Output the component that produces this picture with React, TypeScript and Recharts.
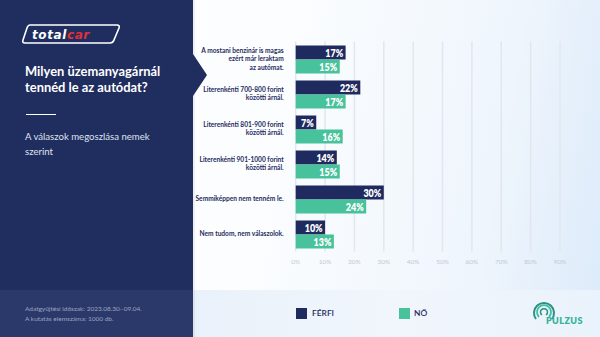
import React from "react";
import { BarChart, Bar, XAxis, YAxis, CartesianGrid, LabelList } from "recharts";

const categories = [
  "A mostani benzinár is magas\nezért már leraktam\naz autómat.",
  "Literenkénti 700-800 forint\nközötti árnál.",
  "Literenkénti 801-900 forint\nközötti árnál.",
  "Literenkénti 901-1000 forint\nközötti árnál.",
  "Semmiképpen nem tenném le.",
  "Nem tudom, nem válaszolok.",
];
const ferfi = [17, 22, 7, 14, 30, 10];
const no = [15, 17, 16, 15, 24, 13];
const xTicks = [0, 10, 20, 30, 40, 50, 60, 70, 80, 90];
const seriesNames = ["FÉRFI", "NŐ"];

const NAVY = "#1f2b5e";
const GREEN = "#48c29b";

const data = categories.map((name, i) => ({ name, ferfi: ferfi[i], no: no[i] }));

const YTick = (props: any) => {
  const { x, y, payload } = props;
  const lines = String(payload.value).split("\n");
  const lh = 8.3;
  const start = y - ((lines.length - 1) * lh) / 2;
  return (
    <text
      x={x}
      y={start}
      textAnchor="end"
      fill={NAVY}
      fontFamily="Lato, sans-serif"
      fontWeight={700}
      fontSize={6.6}
    >
      {lines.map((l: string, i: number) => (
        <tspan key={i} x={x} y={start + i * lh} dy="0.35em">
          {l}
        </tspan>
      ))}
    </text>
  );
};

const ValueLabel = (props: any) => {
  const { x, y, width, height, value } = props;
  return (
    <text
      transform={`translate(${x + width - 2.5}, ${y + height / 2}) scale(0.78, 1)`}
      dy="0.36em"
      textAnchor="end"
      fill="#ffffff"
      fontFamily="Lato, sans-serif"
      fontWeight={800}
      fontSize={11.5}
    >
      {value}%
    </text>
  );
};

export default function App() {
  return (
    <div
      style={{
        position: "fixed",
        left: 0,
        top: 0,
        width: 600,
        height: 337,
        overflow: "hidden",
        fontFamily: "Lato, sans-serif",
        background: "linear-gradient(100deg, #ffffff 0%, #fbfdff 45%, #eef5fc 80%, #dceafa 100%)",
      }}
    >
      {/* bottom band right */}
      <div
        style={{
          position: "absolute",
          left: 193,
          top: 290,
          width: 407,
          height: 47,
          background: "linear-gradient(90deg, #e9f1fa 0%, #f1f6fc 50%, #eaf2fb 100%)",
        }}
      />
      {/* left panel */}
      <div style={{ position: "absolute", left: 0, top: 0, width: 193, height: 290, background: "#202d5f" }} />
      <div style={{ position: "absolute", left: 0, top: 290, width: 193, height: 47, background: "#2b386a" }} />
      <div style={{ position: "absolute", left: 193, top: 0, width: 2, height: 337, background: "rgba(0,0,0,0.06)" }} />
      <svg style={{ position: "absolute", left: 190, top: 50 }} width={20} height={50}>
        <polygon points="0,4 3,4 17,25 3,46 0,46" fill="#202d5f" />
      </svg>
      {/* logo */}
      <svg style={{ position: "absolute", left: 22, top: 23 }} width={100} height={22}>
        <path
          d="M8 2 H95 Q98 2 97 5 L92 17 Q91 20 88 20 H3 Q0 20 1 17 L5 5 Q6 2 8 2 Z"
          fill="none"
          stroke="#ffffff"
          strokeWidth={1.6}
        />
        <text
          x={10}
          y={15.5}
          fontFamily="'DejaVu Sans', sans-serif"
          fontWeight={700}
          fontStyle="italic"
          fontSize={12}
          letterSpacing={0.6}
          fill="#ffffff"
        >
          total
          <tspan fill="#e0303a">car</tspan>
        </text>
      </svg>
      <div
        style={{
          position: "absolute",
          left: 25,
          top: 64,
          color: "#ffffff",
          fontWeight: 700,
          fontSize: 12.9,
          lineHeight: "15.5px",
        }}
      >
        Milyen üzemanyagárnál
        <br />
        tennéd le az autódat?
      </div>
      <div style={{ position: "absolute", left: 26, top: 114, width: 30, height: 1.2, background: "#ffffff" }} />
      <div
        style={{
          position: "absolute",
          left: 25,
          top: 130,
          color: "#dfe3f0",
          fontSize: 9.6,
          lineHeight: "14.5px",
        }}
      >
        A válaszok megoszlása nemek
        <br />
        szerint
      </div>
      <div
        style={{
          position: "absolute",
          left: 25,
          top: 304,
          color: "#9ba4c2",
          fontSize: 6.5,
          lineHeight: "10px",
        }}
      >
        Adatgyűjtési időszak: 2023.08.30–09.04.
        <br />
        A kutatás elemszáma: 1000 db.
      </div>
      {/* legend */}
      <div style={{ position: "absolute", left: 296, top: 308, width: 11, height: 11, background: NAVY }} />
      <div style={{ position: "absolute", left: 312, top: 308, fontSize: 8.4, lineHeight: "11px", color: NAVY, fontWeight: 600 }}>
        {seriesNames[0]}
      </div>
      <div style={{ position: "absolute", left: 399, top: 308, width: 11, height: 11, background: GREEN }} />
      <div style={{ position: "absolute", left: 414, top: 308, fontSize: 8.4, lineHeight: "11px", color: NAVY, fontWeight: 600 }}>
        {seriesNames[1]}
      </div>
      {/* pulzus logo */}
      <svg style={{ position: "absolute", left: 530, top: 299 }} width={60} height={30}>
        <path d="M6 20 A10 10 0 1 1 22 20" fill="none" stroke="#2a8f86" strokeWidth={2} />
        <path d="M9 18 A7 7 0 1 1 19 18" fill="none" stroke="#3fbf9c" strokeWidth={1.8} />
        <path d="M12 16 A3.5 3.5 0 1 1 16 16" fill="none" stroke="#2a8f86" strokeWidth={1.5} />
        <text x={16} y={25} fontFamily="Lato, sans-serif" fontWeight={800} fontSize={9} fill="#36b39b" letterSpacing={0.4}>
          PULZUS
        </text>
      </svg>
      <div style={{ position: "absolute", left: 0, top: 0 }}>
        <BarChart
          width={600}
          height={337}
          data={data}
          layout="vertical"
          margin={{ top: 41.5, right: 40, bottom: 65.5, left: 190 }}
          barCategoryGap="10%"
          barGap={0}
        >
          <CartesianGrid horizontal={false} vertical={true} stroke="#e2e7ef" strokeWidth={1.5} />
          <XAxis
            type="number"
            domain={[0, 90]}
            ticks={xTicks}
            tickFormatter={(v: number) => `${v}%`}
            axisLine={false}
            tickLine={false}
            height={20}
            tick={{ fill: "#c3c8d5", fontSize: 6.5, fontFamily: "Lato, sans-serif" }}
            interval={0}
          />
          <YAxis
            type="category"
            dataKey="name"
            width={105.7}
            axisLine={false}
            tickLine={false}
            tick={<YTick />}
            tickMargin={6}
            interval={0}
          />
          <Bar dataKey="ferfi" fill={NAVY} barSize={14} isAnimationActive={false}>
            <LabelList dataKey="ferfi" content={<ValueLabel />} />
          </Bar>
          <Bar dataKey="no" fill={GREEN} barSize={14} isAnimationActive={false}>
            <LabelList dataKey="no" content={<ValueLabel />} />
          </Bar>
        </BarChart>
      </div>
    </div>
  );
}
